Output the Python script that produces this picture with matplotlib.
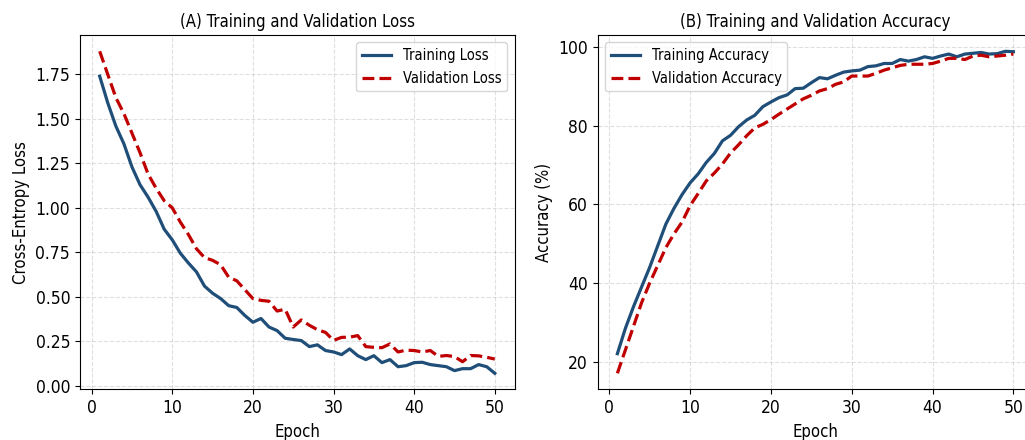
import numpy as np
import matplotlib
matplotlib.use("Agg")
import matplotlib.pyplot as plt

# ----------------------------------------------------
# data
# ----------------------------------------------------
epochs = list(range(1, 51))

train_loss = [1.74, 1.59, 1.46, 1.36, 1.23, 1.13, 1.06, 0.98, 0.88, 0.82,
              0.745, 0.69, 0.64, 0.56, 0.52, 0.49, 0.45, 0.44, 0.395, 0.357,
              0.378, 0.33, 0.31, 0.267, 0.26, 0.254, 0.22, 0.23, 0.198, 0.19,
              0.175, 0.207, 0.169, 0.147, 0.169, 0.13, 0.147, 0.107, 0.113, 0.13,
              0.132, 0.119, 0.113, 0.107, 0.085, 0.096, 0.096, 0.119, 0.107, 0.07]

val_loss = [1.88, 1.75, 1.62, 1.53, 1.42, 1.31, 1.19, 1.11, 1.04, 1.0,
            0.92, 0.85, 0.77, 0.72, 0.705, 0.68, 0.61, 0.59, 0.54, 0.49,
            0.48, 0.475, 0.42, 0.43, 0.33, 0.37, 0.34, 0.315, 0.30, 0.255,
            0.272, 0.273, 0.282, 0.22, 0.216, 0.214, 0.235, 0.19, 0.20, 0.198,
            0.19, 0.198, 0.165, 0.17, 0.164, 0.135, 0.17, 0.168, 0.16, 0.15]

train_acc = [22.0, 28.5, 34.0, 39.0, 44.0, 49.5, 55.0, 59.0, 62.5, 65.5,
             67.8, 70.7, 73.0, 76.2, 77.6, 79.8, 81.5, 82.7, 84.9, 86.1,
             87.2, 87.9, 89.5, 89.6, 91.0, 92.3, 92.0, 92.9, 93.7, 94.0,
             94.2, 95.1, 95.3, 95.9, 95.9, 96.9, 96.5, 96.9, 97.6, 97.2,
             97.8, 98.3, 97.6, 98.3, 98.5, 98.7, 98.3, 98.4, 99.0, 98.9]

val_acc = [17.0, 23.0, 29.0, 35.0, 40.0, 44.5, 49.0, 52.5, 55.5, 59.7,
           62.8, 66.0, 68.0, 70.3, 73.1, 75.2, 77.5, 79.5, 80.4, 81.6,
           83.0, 84.3, 85.6, 86.9, 87.8, 88.9, 89.5, 90.6, 91.2, 92.7,
           92.7, 92.7, 93.4, 94.2, 94.8, 95.4, 95.7, 95.7, 95.7, 95.9,
           96.5, 97.2, 97.2, 96.9, 97.8, 98.0, 97.6, 97.8, 98.0, 98.3]

# ----------------------------------------------------
# style
# ----------------------------------------------------
blue = "#1f4e79"
red = "#c00000"
plt.rcParams["font.family"] = ["DejaVu Sans"]
plt.rcParams["font.stretch"] = "condensed"

fig = plt.figure(figsize=(10.25, 4.4), dpi=100)
ax1 = fig.add_axes([0.078, 0.115, 0.424, 0.805])
ax2 = fig.add_axes([0.583, 0.115, 0.425, 0.805])

# (A) loss
ax1.plot(epochs, train_loss, color=blue, lw=2.3, label="Training Loss")
ax1.plot(epochs, val_loss, color=red, lw=2.3, ls="--", label="Validation Loss")
ax1.set_title("(A) Training and Validation Loss", fontsize=12)
ax1.set_xlabel("Epoch", fontsize=12)
ax1.set_ylabel("Cross-Entropy Loss", fontsize=12)
ax1.legend(loc="upper right", fontsize=10.5)

# (B) accuracy
ax2.plot(epochs, train_acc, color=blue, lw=2.3, label="Training Accuracy")
ax2.plot(epochs, val_acc, color=red, lw=2.3, ls="--", label="Validation Accuracy")
ax2.set_title("(B) Training and Validation Accuracy", fontsize=12)
ax2.set_xlabel("Epoch", fontsize=12)
ax2.set_ylabel("Accuracy (%)", fontsize=12)
ax2.legend(loc="upper left", fontsize=10.5)

for ax in (ax1, ax2):
    ax.grid(True, ls="--", alpha=0.4)
    ax.tick_params(labelsize=12.5)

fig.savefig("out.png", dpi=100)
